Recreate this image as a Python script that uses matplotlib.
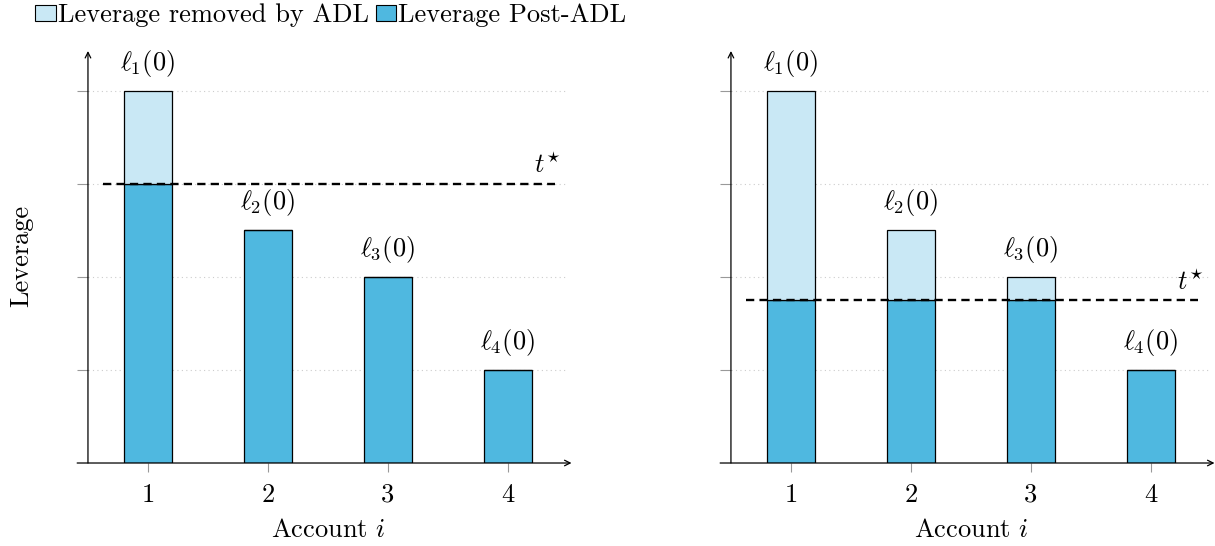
import matplotlib
matplotlib.use("Agg")
import matplotlib.pyplot as plt
from matplotlib.patches import Patch

# Leverage of each account before ADL, and the threshold t* for each scenario
accounts = [1, 2, 3, 4]
leverage_left = [4.0, 2.5, 2.0, 1.0]
threshold_left = 3.0
leverage_right = [4.0, 2.5, 2.0, 1.0]
threshold_right = 1.75
grid_levels = [1, 2, 3, 4]

DARK = "#4fb8e0"
LIGHT = "#c9e8f5"
FS = 19

plt.rcParams["font.family"] = ["cmr10", "DejaVu Serif"]
plt.rcParams["mathtext.fontset"] = "cm"
plt.rcParams["axes.formatter.use_mathtext"] = True


def draw_panel(ax, lev, t, ylabel=False):
    post = [min(v, t) for v in lev]
    removed = [v - p for v, p in zip(lev, post)]

    ax.bar(accounts, post, width=0.4, color=DARK, edgecolor="black", linewidth=0.9, zorder=3)
    ax.bar(accounts, removed, width=0.4, bottom=post, color=LIGHT, edgecolor="black",
           linewidth=0.9, zorder=3)

    # threshold line
    ax.plot([0.625, 4.39], [t, t], color="black", linewidth=1.7, linestyle=(0, (3.5, 2.2)), zorder=4)
    ax.text(4.33, t + 0.06, r"$t^{\star}$", ha="center", va="bottom", fontsize=FS)

    for x, v in zip(accounts, lev):
        ax.text(x, v + 0.13, r"$\ell_{%d}(0)$" % x, ha="center", va="bottom", fontsize=FS)

    ax.set_xlim(0.5, 4.5)
    ax.set_ylim(0, 4.45)
    for s in ax.spines.values():
        s.set_visible(False)

    ax.set_xticks(accounts)
    ax.set_xticklabels([str(a) for a in accounts], fontsize=FS)
    ax.set_yticks(grid_levels)
    ax.set_yticklabels([])
    ax.tick_params(axis="x", direction="out", length=6.5, width=0.8, color="#999999", pad=8)
    ax.tick_params(axis="y", direction="out", length=8, width=0.8, color="#999999")
    ax.grid(axis="y", linestyle=(0, (1, 3)), color="#cccccc", linewidth=0.8, zorder=0)

    # axis arrows
    ax.annotate("", xy=(4.53, 0), xytext=(0.41, 0), xycoords="data",
                arrowprops=dict(arrowstyle="->", lw=0.9, color="black", shrinkA=0, shrinkB=0),
                annotation_clip=False, zorder=5)
    ax.annotate("", xy=(0.5, 4.43), xytext=(0.5, 0), xycoords="data",
                arrowprops=dict(arrowstyle="->", lw=0.9, color="black", shrinkA=0, shrinkB=0),
                annotation_clip=False, zorder=5)

    ax.set_xlabel(r"Account $i$", fontsize=FS, labelpad=8)
    if ylabel:
        ax.text(-0.138, 0.5, "Leverage", rotation=90, ha="center", va="center",
                fontsize=FS, transform=ax.transAxes)


fig = plt.figure(figsize=(12.15, 5.46), dpi=100)
ax1 = fig.add_axes([0.0724, 0.152, 0.395, 0.758])
ax2 = fig.add_axes([0.6016, 0.152, 0.395, 0.758])

draw_panel(ax1, leverage_left, threshold_left, ylabel=True)
draw_panel(ax2, leverage_right, threshold_right)

handles = [Patch(facecolor=LIGHT, edgecolor="black", linewidth=0.8, label="Leverage removed by ADL"),
           Patch(facecolor=DARK, edgecolor="black", linewidth=0.8, label="Leverage Post-ADL")]
fig.legend(handles=handles, loc="upper left", bbox_to_anchor=(0.027, 0.998), ncol=2,
           frameon=False, fontsize=FS, handlelength=0.78, handleheight=0.55,
           handletextpad=0.08, columnspacing=0.25, borderpad=0.1, borderaxespad=0)

fig.savefig("out.png", dpi=100)
